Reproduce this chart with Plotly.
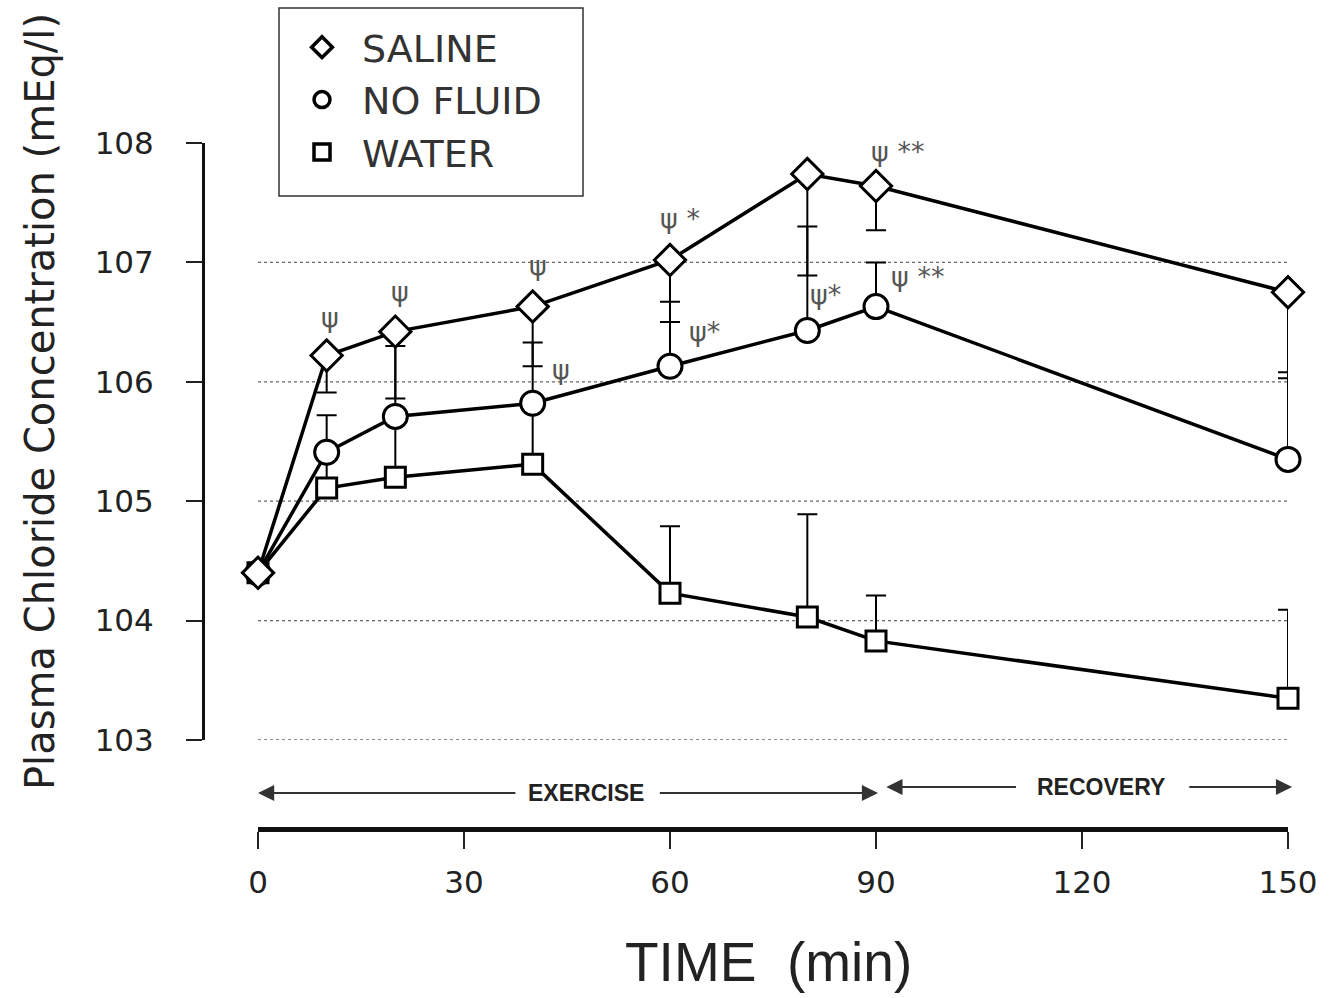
import plotly.graph_objects as go

# ---- data ----
time_min = [0, 10, 20, 40, 60, 80, 90, 150]
saline = [104.40, 106.22, 106.42, 106.63, 107.02, 107.74, 107.64, 106.75]
saline_sd_down = [0, 0.31, 0.56, 0.50, 0.52, 0.85, 0.37, 0.72]
no_fluid = [104.40, 105.41, 105.71, 105.82, 106.13, 106.43, 106.63, 105.35]
no_fluid_sd_up = [0, 0.31, 0.59, 0.51, 0.54, 0.87, 0.37, 0.73]
water = [104.40, 105.11, 105.20, 105.31, 104.23, 104.03, 103.83, 103.35]
water_sd_up = [0, 0.30, 0.50, 0.50, 0.56, 0.86, 0.38, 0.74]
zeros = [0] * len(time_min)

x_ticks = [0, 30, 60, 90, 120, 150]
y_ticks = [103, 104, 105, 106, 107, 108]

# significance labels: (time, value, text)
sig_times = [10.5, 20.7, 40.8, 44.1, 61.5, 65.0, 81.5, 82.7, 93.2, 96.1, 152.0]
sig_values = [106.54, 106.76, 106.97, 106.10, 107.37, 106.42, 108.07, 106.73, 107.93, 106.88, 107.09]
sig_texts = ["ψ", "ψ", "ψ", "ψ", "ψ *", "ψ*", "ψ *", "ψ*", "ψ **", "ψ **", "ψ *"]

W, H = 1331, 998
FONT = "DejaVu Sans, Liberation Sans, sans-serif"
ARIAL = "Liberation Sans, Arial, sans-serif"

fig = go.Figure()

def add_series(name, y, up, down, symbol, size):
    fig.add_trace(go.Scatter(
        x=time_min, y=y, name=name, mode="lines+markers",
        line=dict(color="black", width=3.5),
        marker=dict(symbol=symbol, size=size, color="white",
                    line=dict(color="black", width=3)),
        error_y=dict(type="data", symmetric=False, array=up, arrayminus=down,
                     color="black", thickness=2, width=10),
        cliponaxis=False, showlegend=False))

add_series("WATER", water, water_sd_up, zeros, "square", 20)
add_series("NO FLUID", no_fluid, no_fluid_sd_up, zeros, "circle", 24)
add_series("SALINE", saline, zeros, saline_sd_down, "diamond", 24)

# legend-only entries (markers only)
for name, symbol in [("SALINE", "diamond"), ("NO FLUID", "circle"), ("WATER", "square")]:
    fig.add_trace(go.Scatter(
        x=[None], y=[None], name=name, mode="markers",
        marker=dict(symbol=symbol, size=16, color="white",
                    line=dict(color="black", width=3.5)),
        showlegend=True))

# dotted grid lines
for v in y_ticks[:-1]:
    fig.add_shape(type="line", xref="x", yref="y", x0=0, x1=150, y0=v, y1=v,
                  line=dict(color="#666", width=1.3, dash="dot"), layer="below")

# legend frame
fig.add_shape(type="rect", xref="paper", yref="paper",
              x0=279 / W, x1=583 / W, y0=1 - 196 / H, y1=1 - 8 / H,
              line=dict(color="#333", width=1.5))

annotations = []
for t, v, s in zip(sig_times, sig_values, sig_texts):
    annotations.append(dict(x=t, y=v, xref="x", yref="y", text=s, showarrow=False,
                            xanchor="center", yanchor="middle",
                            font=dict(family=FONT, size=27, color="#555")))

ybar = 1 - 793 / H
ybar2 = 1 - 787 / H
arrow_style = dict(showarrow=True, arrowhead=2, arrowsize=1.8, arrowwidth=1.8,
                   arrowcolor="#333", text="", axref="x", ayref="pixel", ay=0,
                   xref="x", yref="paper")
center = dict(showarrow=False, xanchor="center", yanchor="middle")
annotations += [
    dict(x=0, y=ybar, ax=37.7, **arrow_style),
    dict(x=90.3, y=ybar, ax=58.3, **arrow_style),
    dict(x=91.5, y=ybar2, ax=110.6, **arrow_style),
    dict(x=150.6, y=ybar2, ax=135.4, **arrow_style),
    dict(x=47.8, y=ybar, xref="x", yref="paper", text="<b>EXERCISE</b>",
         font=dict(family=ARIAL, size=23, color="#222"), **center),
    dict(x=122.7, y=ybar2, xref="x", yref="paper", text="<b>RECOVERY</b>",
         font=dict(family=ARIAL, size=23, color="#222"), **center),
    dict(x=768 / W, y=1 - 962 / H, xref="paper", yref="paper", text="TIME  (min)",
         font=dict(family=ARIAL, size=55, color="#222"), **center),
    dict(x=40 / W, y=1 - 402 / H, xref="paper", yref="paper",
         text="Plasma Chloride Concentration (mEq/l)", textangle=-90,
         font=dict(family=FONT, size=40, color="#222"), **center),
]

fig.update_layout(
    width=W, height=H,
    margin=dict(l=0, r=0, t=0, b=0, autoexpand=False),
    paper_bgcolor="white", plot_bgcolor="white",
    font=dict(family=FONT, color="#222"),
    annotations=annotations,
    legend=dict(x=282 / W, y=1 - 16 / H, xanchor="left", yanchor="top",
                borderwidth=0, bgcolor="rgba(0,0,0,0)",
                font=dict(family=FONT, size=38, color="#333"),
                itemsizing="trace", itemwidth=70),
    xaxis=dict(domain=[258 / W, 1288 / W], range=[0, 150], anchor="free",
               position=1 - 829 / H, tickvals=x_ticks, ticks="outside",
               ticklen=17, tickwidth=2, tickcolor="#222", showline=True,
               linecolor="#111", linewidth=5, showgrid=False, zeroline=False,
               ticklabelstandoff=7,
               tickfont=dict(family=FONT, size=31, color="#222")),
    yaxis=dict(domain=[1 - 740 / H, 1 - 143 / H], range=[103, 108], anchor="free",
               position=203 / W, tickvals=y_ticks, ticks="outside",
               ticklen=16, tickwidth=2, tickcolor="#222", showline=True,
               linecolor="#111", linewidth=3, showgrid=False, zeroline=False,
               ticklabelstandoff=26,
               tickfont=dict(family=FONT, size=31, color="#222")),
)

fig.write_html("out.html")
